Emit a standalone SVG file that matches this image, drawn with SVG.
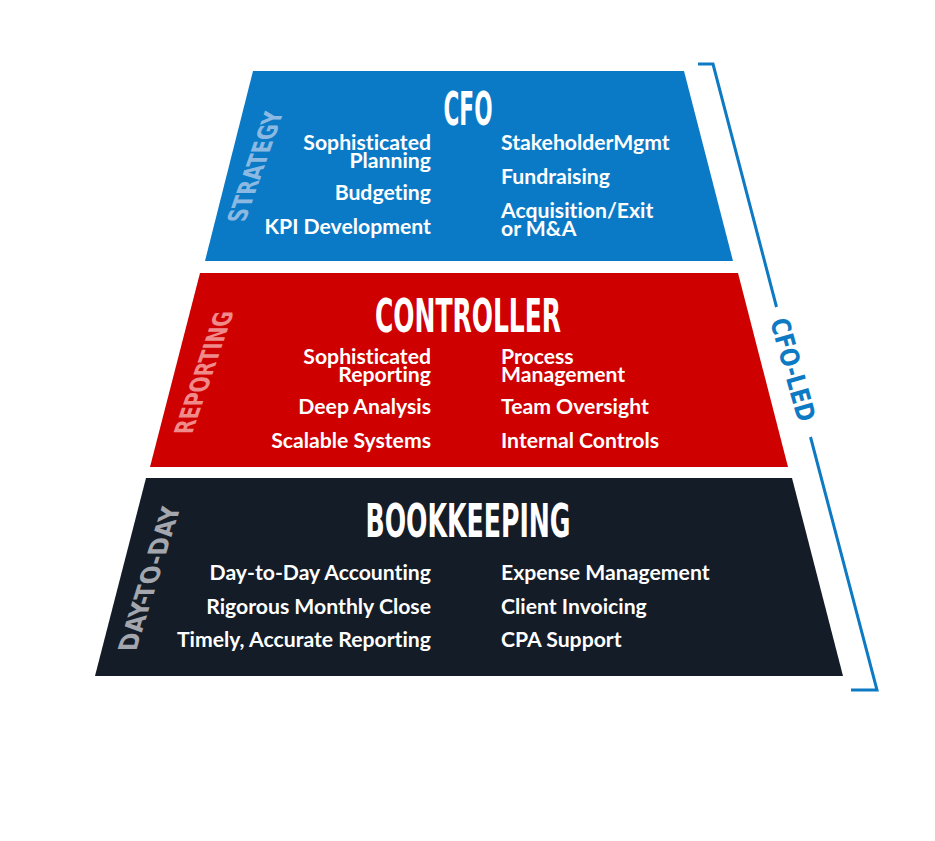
<svg xmlns="http://www.w3.org/2000/svg" width="935" height="841" viewBox="0 0 935 841">
  <style>
    .title { font-family: "Liberation Sans Narrow", "DejaVu Sans Condensed", "Roboto", sans-serif; font-weight: bold; font-size: 47px; fill: #ffffff; text-anchor: middle; }
    .item { font-family: Lato, "Liberation Sans", sans-serif; font-weight: bold; font-size: 21.2px; fill: #ffffff; font-variant-ligatures: none; }
    .l { text-anchor: end; }
    .r { text-anchor: start; }
    .side { font-family: "Liberation Sans Narrow", "DejaVu Sans Condensed", "Roboto", sans-serif; font-weight: bold; font-size: 26px; }
    .bracket { fill: none; stroke: #0d7ac3; stroke-width: 3; }
  </style>
  <rect width="935" height="841" fill="#ffffff"/>

  <g id="cfo">
    <polygon points="253,71 684,71 733,261 205,261" fill="#0b7ac6"/>
    <text class="title" x="468" y="125" textLength="49" lengthAdjust="spacingAndGlyphs">CFO</text>
    <text class="side" fill="#8cb9e2" transform="matrix(0.33,-0.944,1,0,245,222)" textLength="118" lengthAdjust="spacingAndGlyphs">STRATEGY</text>
    <text class="item l" x="431" y="150">Sophisticated</text>
    <text class="item l" x="431" y="168">Planning</text>
    <text class="item l" x="431" y="200">Budgeting</text>
    <text class="item l" x="431" y="234">KPI Development</text>
    <text class="item r" x="501" y="150">StakeholderMgmt</text>
    <text class="item r" x="501" y="184">Fundraising</text>
    <text class="item r" x="501" y="218">Acquisition/Exit</text>
    <text class="item r" x="501" y="236">or M&amp;A</text>
  </g>

  <g id="controller">
    <polygon points="200,273 738,273 788,467 150,467" fill="#cf0000"/>
    <text class="title" x="468" y="332" textLength="186" lengthAdjust="spacingAndGlyphs">CONTROLLER</text>
    <text class="side" fill="#f08b8b" transform="matrix(0.323,-0.946,1,0,192,434)" textLength="130" lengthAdjust="spacingAndGlyphs">REPORTING</text>
    <text class="item l" x="431" y="364">Sophisticated</text>
    <text class="item l" x="431" y="382">Reporting</text>
    <text class="item l" x="431" y="414">Deep Analysis</text>
    <text class="item l" x="431" y="448">Scalable Systems</text>
    <text class="item r" x="501" y="364">Process</text>
    <text class="item r" x="501" y="382">Management</text>
    <text class="item r" x="501" y="414">Team Oversight</text>
    <text class="item r" x="501" y="448">Internal Controls</text>
  </g>

  <g id="bookkeeping">
    <polygon points="146,478 792,478 843,676 95,676" fill="#141c27"/>
    <text class="title" x="468" y="537" textLength="205" lengthAdjust="spacingAndGlyphs">BOOKKEEPING</text>
    <text class="side" fill="#a3a7ad" transform="matrix(0.296,-0.955,1,0,136,651)" textLength="152" lengthAdjust="spacingAndGlyphs">DAY-TO-DAY</text>
    <text class="item l" x="431" y="580">Day-to-Day Accounting</text>
    <text class="item l" x="431" y="614">Rigorous Monthly Close</text>
    <text class="item l" x="431" y="647">Timely, Accurate Reporting</text>
    <text class="item r" x="501" y="580">Expense Management</text>
    <text class="item r" x="501" y="614">Client Invoicing</text>
    <text class="item r" x="501" y="647">CPA Support</text>
  </g>

  <g id="connectors">
    <polyline class="bracket" points="698,64 713,64 776.5,307"/>
    <polyline class="bracket" points="810.5,437 877,690 851,690"/>
  </g>

  <g id="cfo-led">
    <text class="side" fill="#0d7ac3" font-size="28" transform="translate(770,321) rotate(74.5)" textLength="106" lengthAdjust="spacingAndGlyphs">CFO-LED</text>
  </g>
</svg>
